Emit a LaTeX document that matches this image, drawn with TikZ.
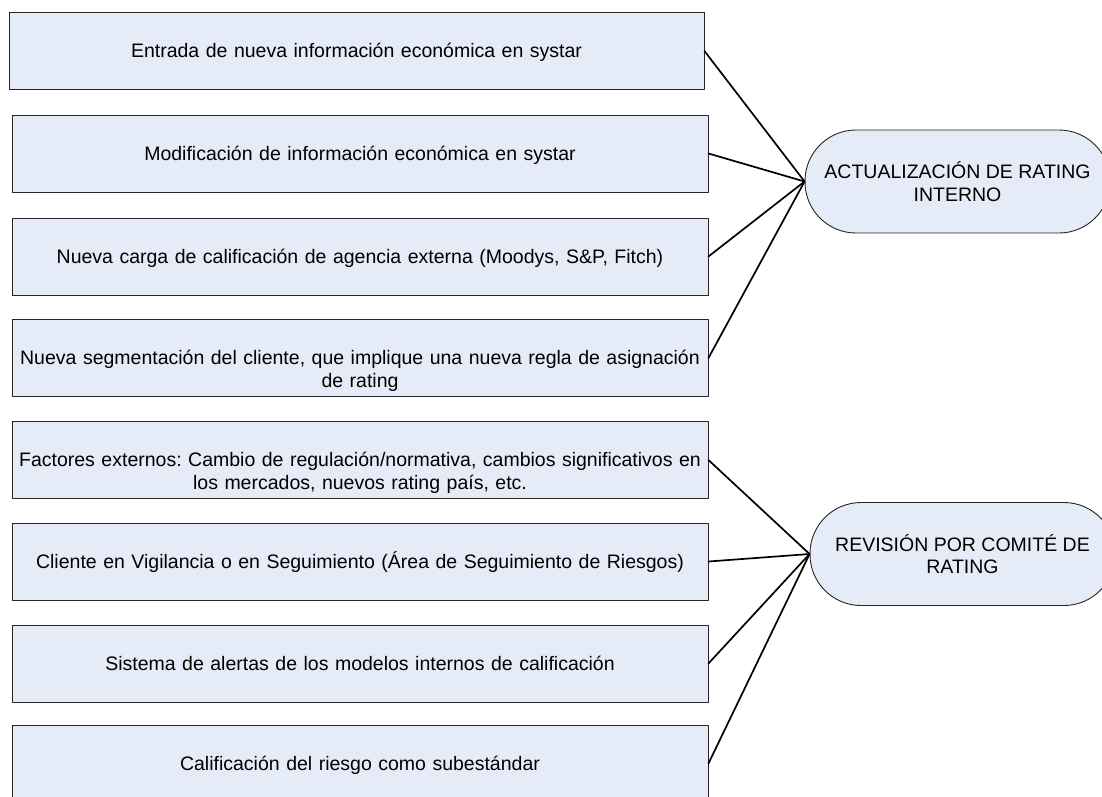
\documentclass[tikz,border=0pt]{standalone}
\usepackage{fontspec}
\setmainfont{Liberation Sans}
\frenchspacing
\definecolor{boxfill}{RGB}{229,236,247}
\tikzset{
  cause/.style={draw=black!85, fill=boxfill, line width=0.9pt, inner sep=0pt,
    minimum width=696pt, minimum height=77pt, text width=690pt, align=center,
    text height=45pt, text depth=32pt},
  outcome/.style={draw=black!85, fill=boxfill, line width=0.9pt, inner sep=0pt,
    rounded corners=51pt, minimum width=305pt, minimum height=103pt, align=center},
  link/.style={line width=1.7pt}
}
\begin{document}
\begin{tikzpicture}[x=1pt, y=-1pt, line join=round, line cap=round,
    every node/.style={font=\fontsize{19.5}{22.5}\selectfont}]
  \useasboundingbox (0,0) rectangle (1102,796);
  \clip (0,0) rectangle (1102,796);
  % causas
  \node[cause, minimum width=695pt] (entrada) at (356.5,51) {Entrada de nueva información económica en systar};
  \node[cause] (modif) at (360,153.5) {Modificación de información económica en systar};
  \node[cause] (agencia) at (360,256.5) {Nueva carga de calificación de agencia externa (Moodys, S\&P, Fitch)};
  \node[cause] (segment) at (360,358) {Nueva segmentación del cliente, que implique una nueva regla de asignación\\de rating};
  \node[cause] (factores) at (360,460) {Factores externos: Cambio de regulación/normativa, cambios significativos en\\los mercados, nuevos rating país, etc.};
  \node[cause] (cliente) at (360,561.5) {Cliente en Vigilancia o en Seguimiento (Área de Seguimiento de Riesgos)};
  \node[cause] (alertas) at (360,663.5) {Sistema de alertas de los modelos internos de calificación};
  \node[cause] (subest) at (360,763.5) {Calificación del riesgo como subestándar};
  % resultados
  \node[outcome] (rating) at (957.5,181.5) {ACTUALIZACIÓN DE RATING\\INTERNO};
  \node[outcome] (comite) at (962.5,554) {REVISIÓN POR COMITÉ DE\\RATING};
  % conexiones
  \foreach \c in {entrada,modif,agencia,segment}
    \draw[link] (\c.east) -- (rating.west);
  \foreach \c in {factores,cliente,alertas,subest}
    \draw[link] (\c.east) -- (comite.west);
\end{tikzpicture}
\end{document}
